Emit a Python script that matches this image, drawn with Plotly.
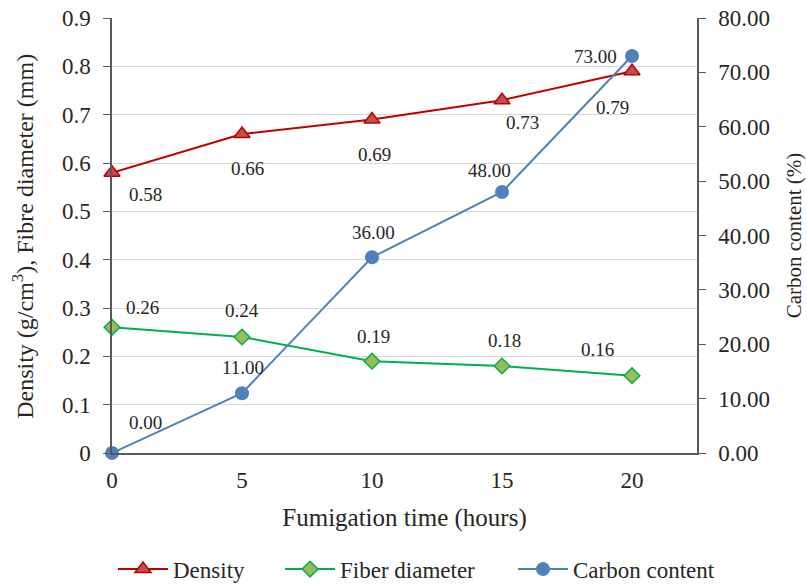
import plotly.graph_objects as go

hours = [0, 5, 10, 15, 20]
density = [0.58, 0.66, 0.69, 0.73, 0.79]
fiber = [0.26, 0.24, 0.19, 0.18, 0.16]
carbon = [0.00, 11.00, 36.00, 48.00, 73.00]

density_off = [(33, -22), (5, -34), (2, -35), (20, -22), (-20, -36)]
fiber_off = [(30, 20), (0, 27), (1, 25), (2, 26), (-35, 26)]
carbon_off = [(33, 31), (1, 26), (1, 25), (-13, 22), (-37, 0)]

font = "Liberation Serif, Times New Roman, serif"
txt = "#262626"

fig = go.Figure()
fig.add_trace(go.Scatter(x=hours, y=density, name="Density", mode="lines+markers",
                         line=dict(color="#C00000", width=2),
                         marker=dict(symbol="triangle-up", size=14, color="#C0504D",
                                     line=dict(color="#C00000", width=1.5)),
                         cliponaxis=False, legend="legend"))
fig.add_trace(go.Scatter(x=hours, y=fiber, name="Fiber diameter", mode="lines+markers",
                         line=dict(color="#00B050", width=2),
                         marker=dict(symbol="diamond", size=12, color="#9BBB59",
                                     line=dict(color="#00B050", width=1.5)),
                         cliponaxis=False, legend="legend2"))
fig.add_trace(go.Scatter(x=hours, y=carbon, name="Carbon content", mode="lines+markers",
                         line=dict(color="#4F81BD", width=2),
                         marker=dict(symbol="circle", size=14, color="#4F81BD"),
                         yaxis="y2", cliponaxis=False, legend="legend3"))

anns = []
for xs, ys, offs, yref in [(hours, density, density_off, "y"),
                           (hours, fiber, fiber_off, "y"),
                           (hours, carbon, carbon_off, "y2")]:
    for xv, yv, (dx, dy) in zip(xs, ys, offs):
        anns.append(dict(x=xv, y=yv, xref="x", yref=yref, text="{:.2f}".format(yv),
                         showarrow=False, xshift=dx, yshift=dy,
                         font=dict(family=font, size=19, color=txt)))

# left axis title as rotated annotation
anns.append(dict(x=(23 - 112) / 585, y=0.497, xref="paper", yref="paper",
                 xanchor="center", yanchor="middle", textangle=-90, showarrow=False,
                 text="Density (g/cm<sup>3</sup>), Fibre diameter (mm)",
                 font=dict(family=font, size=24, color=txt)))

def leg(xpx):
    return dict(orientation="h", x=(xpx - 112) / 585, xanchor="left", y=-0.267,
                yanchor="middle", font=dict(family=font, size=23, color=txt),
                itemwidth=50, bgcolor="rgba(0,0,0,0)")

fig.update_layout(
    width=807, height=584,
    margin=dict(l=112, r=110, t=18, b=131, autoexpand=False),
    paper_bgcolor="white", plot_bgcolor="white",
    font=dict(family=font, size=23, color=txt),
    showlegend=True,
    legend=leg(113), legend2=leg(280), legend3=leg(513),
    xaxis=dict(range=[0, 22.5], tickvals=[0, 5, 10, 15, 20], showgrid=False,
               zeroline=False, showline=True, linecolor="#595959", linewidth=1.5,
               ticks="", ticklabelstandoff=6,
               tickfont=dict(family=font, size=23, color=txt),
               title=dict(text="Fumigation time (hours)", standoff=16,
                          font=dict(family=font, size=25, color=txt))),
    yaxis=dict(range=[0, 0.9], dtick=0.1, tick0=0, showgrid=True, gridcolor="#D9D9D9",
               gridwidth=1, zeroline=False, showline=True, linecolor="#595959",
               linewidth=1.5, ticks="outside", ticklen=7, tickcolor="#595959",
               ticklabelstandoff=8,
               tickfont=dict(family=font, size=23, color=txt)),
    yaxis2=dict(range=[0, 80], dtick=10, tick0=0, overlaying="y", side="right",
                showgrid=False, zeroline=False, showline=True, linecolor="#595959",
                linewidth=1.5, ticks="outside", ticklen=7, tickcolor="#595959",
                tickformat=".2f", ticklabelstandoff=8,
                tickfont=dict(family=font, size=23, color=txt),
                title=dict(text="Carbon content (%)", standoff=17,
                           font=dict(family=font, size=21, color=txt))),
    annotations=anns,
)

fig.write_html("out.html")
